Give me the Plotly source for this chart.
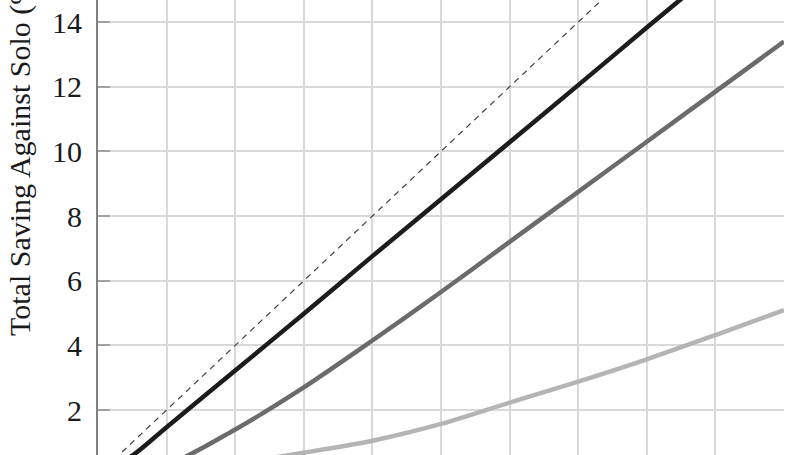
import plotly.graph_objects as go

# Data
x_ideal = [0, 20]
y_ideal = [0, 20]

x_black = [0, 1, 2, 4, 6, 8, 10, 12, 14, 16, 18, 20]
y_black = [0, 0.59, 1.47, 3.22, 4.98, 6.76, 8.52, 10.28, 12.05, 13.83, 15.6, 17.4]

x_dark = [0, 2, 4, 6, 8, 10, 12, 14, 16, 18, 20]
y_dark = [0, 0.3, 1.4, 2.7, 4.15, 5.65, 7.2, 8.75, 10.3, 11.85, 13.4]

x_light = [0, 2, 4, 6, 8, 10, 12, 14, 16, 18, 20]
y_light = [0, 0.12, 0.35, 0.68, 1.05, 1.57, 2.23, 2.88, 3.57, 4.32, 5.09]

y_ticks = [2, 4, 6, 8, 10, 12, 14, 16]
y_title = "Total Saving Against Solo (%)"

FONT = "Liberation Serif"

fig = go.Figure()
fig.add_trace(go.Scatter(x=x_ideal, y=y_ideal, mode="lines",
                         line=dict(color="#404040", width=1.2, dash="6px,5px"),
                         showlegend=False, hoverinfo="skip"))
fig.add_trace(go.Scatter(x=x_light, y=y_light, mode="lines",
                         line=dict(color="#b4b4b4", width=4.5, shape="spline", smoothing=0.8),
                         showlegend=False))
fig.add_trace(go.Scatter(x=x_dark, y=y_dark, mode="lines",
                         line=dict(color="#6b6b6b", width=4.5, shape="spline", smoothing=0.8),
                         showlegend=False))
fig.add_trace(go.Scatter(x=x_black, y=y_black, mode="lines",
                         line=dict(color="#1c1c1c", width=4.5, shape="spline", smoothing=0.8),
                         showlegend=False))

fig.update_layout(
    width=808, height=455,
    margin=dict(l=98, r=24, t=0, b=0),
    paper_bgcolor="white", plot_bgcolor="white",
    font=dict(family=FONT, color="#1a1a1a", size=30),
    xaxis=dict(range=[0, 20], tickvals=list(range(0, 21, 2)), showticklabels=False,
               ticks="", showgrid=True, gridcolor="#d9d9d9", gridwidth=1.5,
               zeroline=False, showline=False),
    yaxis=dict(range=[0.609, 14.683], tickvals=y_ticks, ticks="inside", ticklen=12,
               tickcolor="#a0a0a0", tickwidth=1.5, ticklabelstandoff=8,
               showgrid=True, gridcolor="#d9d9d9", gridwidth=1.5,
               zeroline=False, showline=True, linecolor="#808080", linewidth=2,
               tickfont=dict(family=FONT, size=30, color="#1a1a1a")),
    annotations=[dict(text=y_title, textangle=-90, xref="paper", yref="paper",
                      x=(20 - 98) / 686, y=1 - 153 / 455, xanchor="center", yanchor="middle",
                      showarrow=False, font=dict(family=FONT, size=30, color="#1a1a1a"))],
)

fig.write_html("out.html", config={"displayModeBar": False},
               post_script="document.body.style.margin='0';document.body.style.overflow='hidden';")
